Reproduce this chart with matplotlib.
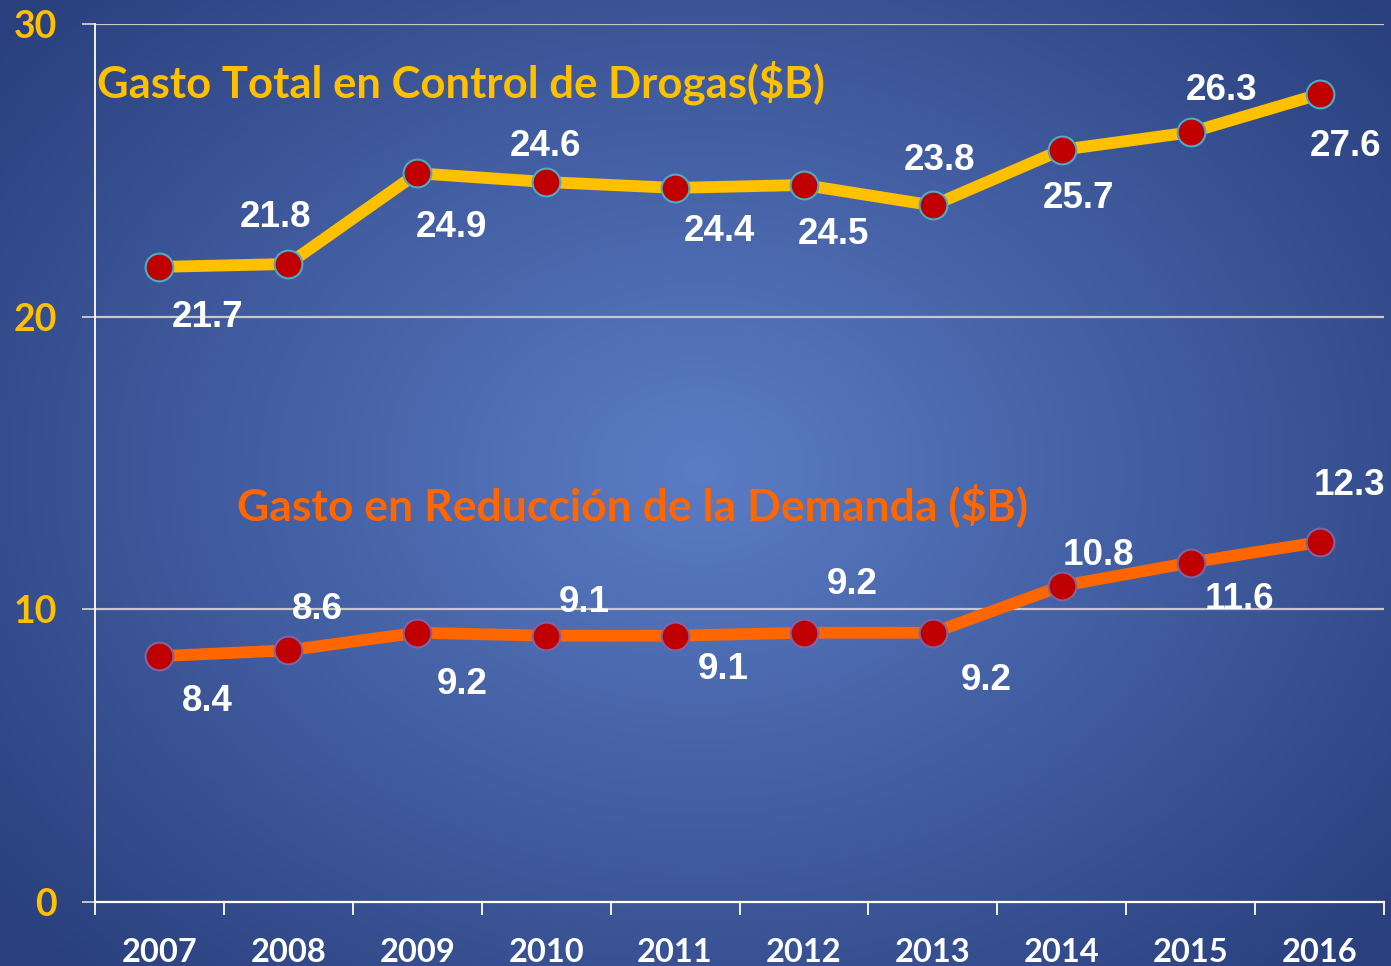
import numpy as np
import matplotlib
matplotlib.use("Agg")
import matplotlib.pyplot as plt

years = ["2007", "2008", "2009", "2010", "2011", "2012", "2013", "2014", "2015", "2016"]
total = [21.7, 21.8, 24.9, 24.6, 24.4, 24.5, 23.8, 25.7, 26.3, 27.6]
demand = [8.4, 8.6, 9.2, 9.1, 9.1, 9.2, 9.2, 10.8, 11.6, 12.3]
yticks = [0, 10, 20, 30]
title_total = "Gasto Total en Control de Drogas($B)"
title_demand = "Gasto en Reducción de la Demanda ($B)"

# label offsets in pixels (dx right, dy down)
off_total = [(48, 48), (-13, -49), (34, 51), (-1, -39), (44, 41), (29, 47), (7, -48), (17, 46), (31, -45), (26, 49)]
off_demand = [(48, 42), (29, -44), (45, 49), (38, -36), (48, 31), (48, -51), (53, 45), (37, -33), (49, 34), (30, -60)]

W, H = 1391, 966
fig = plt.figure(figsize=(W / 100, H / 100), dpi=100)

# background radial gradient
bg = fig.add_axes([0, 0, 1, 1], zorder=-10)
yy, xx = np.mgrid[0:H, 0:W]
cx, cy = 700, 470
d = np.sqrt(((xx - cx) / 900.0) ** 2 + ((yy - cy) / 700.0) ** 2)
d = np.clip(d, 0, 1)
c_in = np.array([91, 124, 197]) / 255.0
c_out = np.array([42, 64, 126]) / 255.0
img = c_in[None, None, :] * (1 - d[..., None]) + c_out[None, None, :] * d[..., None]
bg.imshow(img, aspect="auto", extent=[0, 1, 0, 1], origin="upper")
bg.axis("off")

ax = fig.add_axes([95 / W, 64 / H, 1289 / W, 878 / H])
ax.patch.set_alpha(0)
x = np.arange(len(years))

ax.set_xlim(-0.5, len(years) - 0.5)
ax.set_ylim(0, 30)
for v in yticks[1:]:
    ax.axhline(v, color="#C8C8C8", lw=1.6, zorder=1)

ax.plot(x, total, color="#FFC000", lw=8.5, zorder=3, solid_capstyle="butt")
ax.plot(x, total, ls="none", marker="o", ms=20, mfc="#C00000", mec="#4BACC6", mew=1.5, zorder=4)
ax.plot(x, demand, color="#FF6600", lw=8.5, zorder=3, solid_capstyle="butt")
ax.plot(x, demand, ls="none", marker="o", ms=20, mfc="#C00000", mec="#8064A2", mew=1.5, zorder=4)

lab_font = dict(family="Liberation Sans", weight="bold", size=26.5, color="white")
for xi, v, (dx, dy) in zip(x, total, off_total):
    ax.annotate(f"{v:.1f}", (xi, v), xytext=(dx, -dy - 3), textcoords="offset pixels",
                ha="center", va="center", zorder=5, **lab_font)
for xi, v, (dx, dy) in zip(x, demand, off_demand):
    ax.annotate(f"{v:.1f}", (xi, v), xytext=(dx, -dy - 3), textcoords="offset pixels",
                ha="center", va="center", zorder=5, **lab_font)

ax.text(0.0015, 28.0, title_total, transform=ax.get_yaxis_transform(),
        ha="left", va="center", family="Lato", weight="bold", size=31.4, color="#FFC000", zorder=5)
ax.text((237 - 95) / 1289, 13.55, title_demand, transform=ax.get_yaxis_transform(),
        ha="left", va="center", family="Lato", weight="bold", size=32, color="#FF6600", zorder=5)

for s in ["top", "right"]:
    ax.spines[s].set_visible(False)
ax.spines["left"].set_color("white")
ax.spines["left"].set_linewidth(1.3)
ax.spines["bottom"].set_color("white")
ax.spines["bottom"].set_linewidth(1.6)

ax.set_yticks(yticks)
ax.set_yticklabels([str(v) for v in yticks], family="Lato", weight="bold", size=27, color="#FFC000")
ax.tick_params(axis="y", length=9.5, width=1.3, color="#D0D0D0", pad=18)

ax.set_xticks(x)
ax.set_xticklabels(years, family="Lato", weight="bold", size=23.5, color="white")
ax.tick_params(axis="x", length=0, pad=26)
ax.set_xticks(np.arange(-0.5, len(years) - 0.4, 1.0), minor=True)
ax.tick_params(axis="x", which="minor", length=9, width=1.3, color="white")

fig.savefig("out.png", dpi=100)
